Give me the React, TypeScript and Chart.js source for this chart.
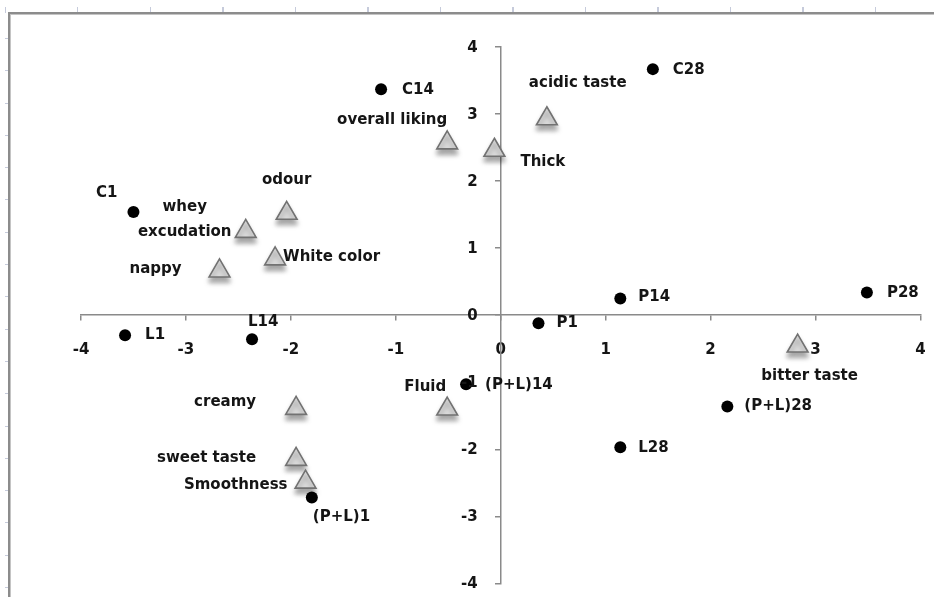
import React, { useEffect, useRef } from 'react';
import { Chart, registerables } from 'chart.js';

Chart.register(...registerables);

// ---- data ----
const sampleNames = ['C1', 'C14', 'C28', 'L1', 'L14', 'L28', 'P1', 'P14', 'P28', '(P+L)1', '(P+L)14', '(P+L)28'];
const sampleX = [-3.5, -1.14, 1.45, -3.58, -2.37, 1.14, 0.36, 1.14, 3.49, -1.8, -0.33, 2.16];
const sampleY = [1.54, 3.37, 3.67, -0.3, -0.36, -1.97, -0.12, 0.25, 0.34, -2.72, -1.03, -1.36];

const attributeNames = ['acidic taste', 'overall liking', 'Thick', 'odour', 'whey\nexcudation', 'White color', 'nappy', 'bitter taste', 'creamy', 'Fluid', 'sweet taste', 'Smoothness'];
const attributeX = [0.44, -0.51, -0.06, -2.04, -2.43, -2.15, -2.68, 2.83, -1.95, -0.51, -1.95, -1.86];
const attributeY = [2.93, 2.57, 2.46, 1.52, 1.25, 0.84, 0.66, -0.46, -1.39, -1.4, -2.15, -2.49];

const axisTicks = [-4, -3, -2, -1, 0, 1, 2, 3, 4];

// ---- label placement (style): [dx, dy, align] relative to the marker ----
const samplePlacement: [number, number, CanvasTextAlign][] = [
  [-16, -19, 'right'], [21, 1, 'left'], [20, 1, 'left'], [20, 0, 'left'],
  [-4, -17, 'left'], [18, 1, 'left'], [18, 0, 'left'], [18, -1, 'left'],
  [20, 1, 'left'], [1, 20, 'left'], [19, 1, 'left'], [17, 0, 'left'],
];
const attributePlacement: [number, number, CanvasTextAlign][] = [
  [-18, -36, 'left'], [0, -23, 'right'], [26, 12, 'left'], [0, -33, 'center'],
  [-61, -12, 'center'], [8, -2, 'left'], [-38, -2, 'right'], [12, 30, 'center'],
  [-40, -6, 'right'], [-1, -22, 'right'], [-40, -1, 'right'], [-18, 3, 'right'],
];

const FONT_FAMILY = '"DejaVu Sans", sans-serif';
const FONT_SIZE = 15;
const TEXT_COLOR = '#151515';
const AXIS_COLOR = '#8a8a8a';
const FONT_CSS = `bold ${FONT_SIZE}px ${FONT_FAMILY}`;

const labelPlugin = {
  id: 'pointLabels',
  afterDatasetsDraw(chart: any) {
    const ctx: CanvasRenderingContext2D = chart.ctx;
    ctx.save();
    ctx.font = FONT_CSS;
    ctx.fillStyle = TEXT_COLOR;
    ctx.textBaseline = 'middle';
    const sets: [string[], [number, number, CanvasTextAlign][]][] = [
      [sampleNames, samplePlacement],
      [attributeNames, attributePlacement],
    ];
    sets.forEach(([names, place], di) => {
      const meta = chart.getDatasetMeta(di);
      meta.data.forEach((el: any, i: number) => {
        const [dx, dy, align] = place[i];
        const lines = names[i].split('\n');
        const lh = 25;
        ctx.textAlign = align;
        const y0 = el.y + dy - ((lines.length - 1) * lh) / 2;
        lines.forEach((ln, k) => ctx.fillText(ln, el.x + dx, y0 + k * lh));
      });
    });
    ctx.restore();
  },
};

// y-axis tick labels, set off to the left of the centred axis (as in the reference)
const yTickLabelPlugin = {
  id: 'yTickLabels',
  afterDraw(chart: any) {
    const ctx: CanvasRenderingContext2D = chart.ctx;
    const xs = chart.scales.x;
    const ys = chart.scales.y;
    const axisX = xs.getPixelForValue(0);
    ctx.save();
    ctx.font = FONT_CSS;
    ctx.fillStyle = TEXT_COLOR;
    ctx.textAlign = 'right';
    ctx.textBaseline = 'middle';
    ys.ticks.forEach((t: any) => {
      ctx.fillText(String(t.value), axisX - 23, ys.getPixelForValue(t.value) + 1);
    });
    ctx.restore();
  },
};

const shadowPlugin = {
  id: 'markerShadow',
  beforeDatasetDraw(chart: any, args: any) {
    if (args.index === 1) {
      const ctx = chart.ctx;
      ctx.save();
      ctx.shadowColor = 'rgba(0,0,0,0.35)';
      ctx.shadowBlur = 5;
      ctx.shadowOffsetX = 0;
      ctx.shadowOffsetY = 5;
    }
  },
  afterDatasetDraw(chart: any, args: any) {
    if (args.index === 1) chart.ctx.restore();
  },
};

const zeroSize = (horizontal: boolean) => (s: any) => {
  if (horizontal) s.height = 0; else s.width = 0;
  s.paddingLeft = 0;
  s.paddingRight = 0;
  s.paddingTop = 0;
  s.paddingBottom = 0;
};

export default function App() {
  const ref = useRef<HTMLCanvasElement>(null);

  useEffect(() => {
    const font = { family: FONT_FAMILY, size: FONT_SIZE, weight: 'bold' as const };
    const chart = new Chart(ref.current as HTMLCanvasElement, {
      type: 'scatter',
      data: {
        datasets: [
          {
            label: 'Samples',
            data: sampleX.map((x, i) => ({ x, y: sampleY[i] })),
            pointStyle: 'circle',
            pointRadius: 6,
            pointBackgroundColor: '#000',
            pointBorderColor: '#000',
            pointBorderWidth: 0,
          },
          {
            label: 'Attributes',
            data: attributeX.map((x, i) => ({ x, y: attributeY[i] })),
            pointStyle: 'triangle',
            pointRadius: 12,
            pointBackgroundColor: '#dcdcdc',
            pointBorderColor: '#727272',
            pointBorderWidth: 1.6,
          },
        ],
      },
      options: {
        animation: false,
        responsive: false,
        events: [],
        layout: { padding: { left: 81, right: 9, top: 47, bottom: 13 } },
        plugins: { legend: { display: false }, tooltip: { enabled: false } },
        scales: {
          x: {
            type: 'linear',
            min: -4,
            max: 4,
            position: { y: 0 } as any,
            afterFit: zeroSize(true),
            afterBuildTicks: (s: any) => { s.ticks = axisTicks.map((v) => ({ value: v })); },
            ticks: { padding: 21, color: TEXT_COLOR, font, callback: (v: any) => String(v) },
            grid: { display: true, drawOnChartArea: false, drawTicks: true, tickLength: 5, color: AXIS_COLOR, lineWidth: 1.5 },
            border: { display: true, color: AXIS_COLOR, width: 1.5 },
          },
          y: {
            type: 'linear',
            min: -4,
            max: 4,
            position: { x: 0 } as any,
            afterFit: zeroSize(false),
            afterBuildTicks: (s: any) => { s.ticks = axisTicks.map((v) => ({ value: v })); },
            ticks: { display: false },
            grid: { display: true, drawOnChartArea: false, drawTicks: true, tickLength: 5, color: AXIS_COLOR, lineWidth: 1.5 },
            border: { display: true, color: AXIS_COLOR, width: 1.5 },
          },
        },
      },
      plugins: [shadowPlugin, labelPlugin, yTickLabelPlugin],
    });
    return () => chart.destroy();
  }, []);

  return (
    <div style={{ position: 'absolute', left: 0, top: 0, width: 934, height: 597, background: '#fff', overflow: 'hidden' }}>
      <div
        style={{
          position: 'absolute', left: 5, top: 7, width: 929, height: 6,
          backgroundImage: 'repeating-linear-gradient(to right, #c6cbdb 0px, #c6cbdb 1px, transparent 1px, transparent 72.5px)',
        }}
      />
      <div
        style={{
          position: 'absolute', left: 5, top: 38, width: 3, height: 559,
          backgroundImage: 'repeating-linear-gradient(to bottom, #c6cbdb 0px, #c6cbdb 1px, transparent 1px, transparent 32.3px)',
        }}
      />
      <div
        style={{
          position: 'absolute', left: 8, top: 12, right: 0, bottom: 0,
          borderTop: '2px solid #8c8c8c', borderLeft: '2px solid #8c8c8c',
          boxShadow: 'inset 1px 1px 0 #c4c4c4',
        }}
      />
      <canvas ref={ref} width={934} height={597} style={{ position: 'absolute', left: 0, top: 0, width: 934, height: 597 }} />
    </div>
  );
}
